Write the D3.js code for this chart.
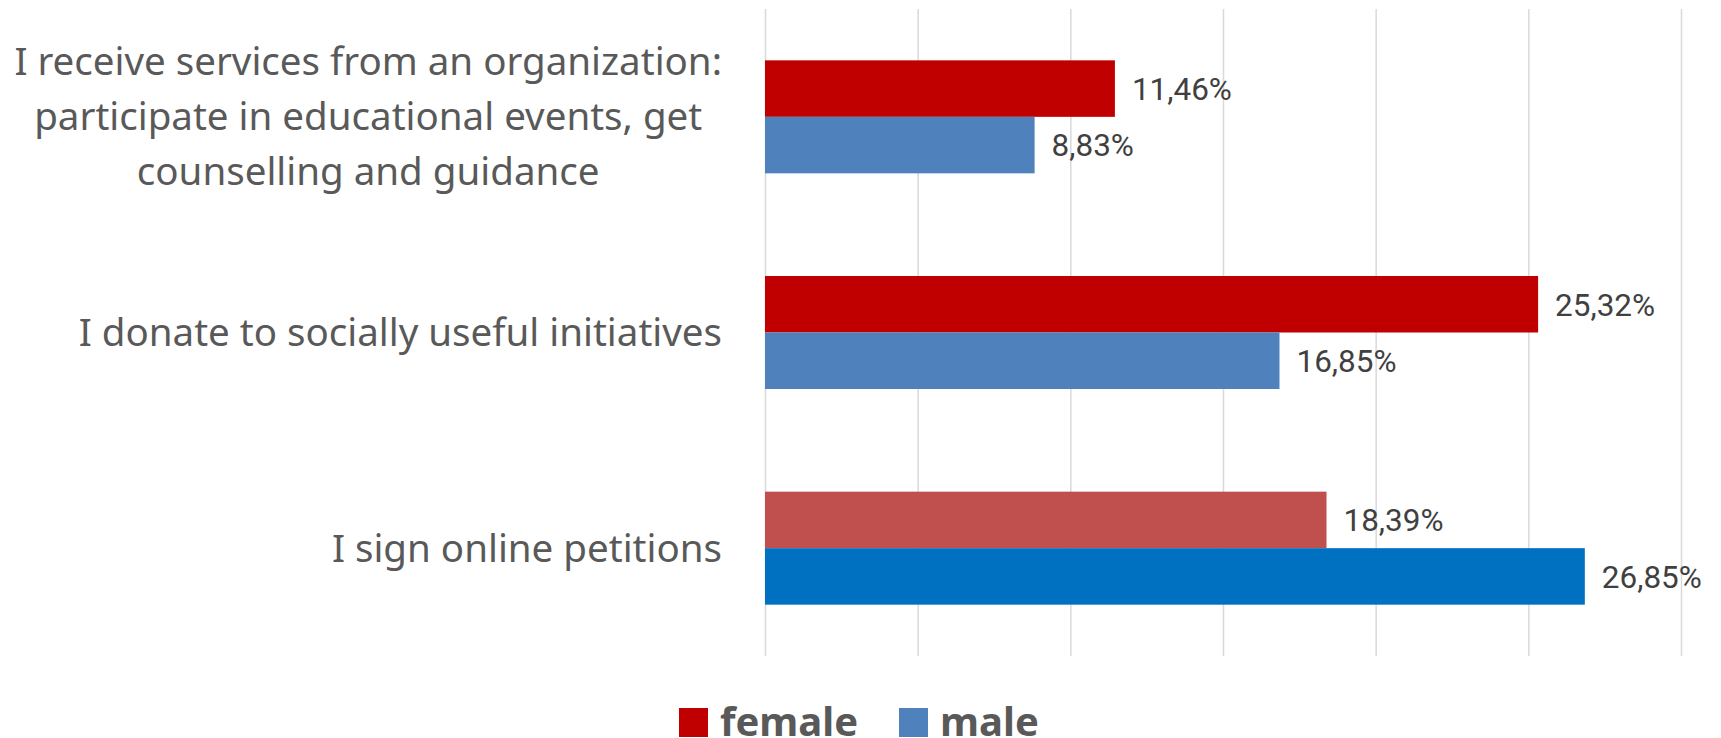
<!DOCTYPE html>
<html>
<head>
<meta charset="utf-8">
<script src="https://cdn.jsdelivr.net/npm/d3@7"></script>
<style>
  body { margin: 0; background: #fff; }
  svg { display: block; }
</style>
</head>
<body>
<script>
// chart values
var categories = [
  "I receive services from an organization: participate in educational events, get counselling and guidance",
  "I donate to socially useful initiatives",
  "I sign online petitions"
];
var labelLines = [
  ["I receive services from an organization:", "participate in educational events, get", "counselling and guidance"],
  ["I donate to socially useful initiatives"],
  ["I sign online petitions"]
];
var series = ["female", "male"];
var female = [11.46, 25.32, 18.39];
var male = [8.83, 16.85, 26.85];
var femaleColors = ["#C00000", "#C00000", "#C0504D"];
var maleColors = ["#4F81BD", "#4F81BD", "#0070C0"];
var legendColors = ["#C00000", "#4F81BD"];
var ticks = [0, 5, 10, 15, 20, 25, 30];

var width = 1721,
    height = 738;

var svg = d3.select("body").append("svg")
    .attr("width", width)
    .attr("height", height);

var x = d3.scaleLinear().domain([0, 30]).range([765, 1681]);
var y = d3.scaleBand().domain(categories).range([9, 656]);
var barH = 56.5;
var y1 = d3.scaleBand().domain(series).range([-barH, barH]); // offset round the band centre

// gridlines
var grid = svg.append("g")
    .attr("transform", "translate(0,656)")
    .call(d3.axisBottom(x).tickValues(ticks).tickSize(-647).tickFormat(""));
grid.select(".domain").remove();
grid.selectAll("line").attr("stroke", "#D9D9D9").attr("stroke-width", 1.5);

var rows = categories.map(function(c, i) {
  return [
    { cat: c, key: "female", v: female[i], color: femaleColors[i] },
    { cat: c, key: "male", v: male[i], color: maleColors[i] }
  ];
});
var bars = [].concat.apply([], rows);

function mid(c) { return y(c) + y.bandwidth() / 2; }

svg.append("g").selectAll("rect")
    .data(bars)
  .enter().append("rect")
    .attr("x", x(0))
    .attr("y", function(d) { return mid(d.cat) + y1(d.key); })
    .attr("width", function(d) { return x(d.v) - x(0); })
    .attr("height", y1.bandwidth())
    .attr("fill", function(d) { return d.color; });

// value labels
var valueFont = "'Liberation Sans Narrow', Roboto, sans-serif";
var vals = svg.append("g").selectAll("text")
    .data(bars)
  .enter().append("text")
    .attr("x", function(d) { return x(d.v) + 17; })
    .attr("y", function(d) { return mid(d.cat) + y1(d.key) + y1.bandwidth() / 2; })
    .attr("dy", "0.36em")
    .attr("fill", "#404040")
    .style("font-family", valueFont)
    .style("font-size", "30px")
    .text(function(d) { return d.v.toFixed(2).replace(".", ",") + "%"; });
// fit so "25,32%" is ~100px wide
var w0 = vals.filter(function(d) { return d.v === 25.32; }).node().getComputedTextLength();
vals.style("font-size", (30 * 100 / w0) + "px");

// category labels
var catFont = "'Noto Sans', sans-serif";
var cats = svg.append("g").selectAll("text")
    .data(categories)
  .enter().append("text")
    .attr("text-anchor", "middle")
    .attr("fill", "#595959")
    .style("font-family", catFont)
    .style("font-size", "36px");

cats.each(function(c, i) {
  var lines = labelLines[i];
  var t = d3.select(this);
  lines.forEach(function(l, j) {
    t.append("tspan")
      .attr("y", mid(c) + (j - (lines.length - 1) / 2) * 55)
      .attr("dy", "0.35em")
      .text(l);
  });
});
// fit: single-line label ~658px wide, longest wrapped line ~710px wide
var probe2 = cats.filter(function(c, i) { return i === 1; }).node().getComputedTextLength();
var probe1 = 0;
cats.filter(function(c, i) { return i === 0; }).selectAll("tspan")
    .each(function() { probe1 = Math.max(probe1, this.getComputedTextLength()); });
var catSize = Math.min(36 * 658 / probe2, 36 * 708 / probe1);
cats.style("font-size", catSize + "px");
cats.each(function(c, i) {
  var t = d3.select(this);
  var maxW = 0;
  t.selectAll("tspan").each(function() { maxW = Math.max(maxW, this.getComputedTextLength()); });
  var cx = 722 - maxW / 2;
  t.selectAll("tspan").attr("x", cx);
});

// legend
var legend = svg.append("g");
var lx = [679, 899];
series.forEach(function(s, i) {
  legend.append("rect")
    .attr("x", lx[i]).attr("y", 708)
    .attr("width", 29).attr("height", 29)
    .attr("fill", legendColors[i]);
  legend.append("text")
    .attr("x", lx[i] + 41).attr("y", 736)
    .attr("fill", "#595959")
    .style("font-family", catFont)
    .style("font-weight", "bold")
    .style("font-size", "40px")
    .text(s);
});
</script>
</body>
</html>
